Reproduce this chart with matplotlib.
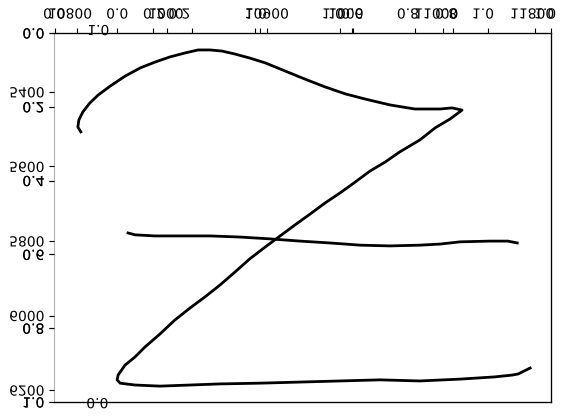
import matplotlib
matplotlib.use('Agg')
import matplotlib.pyplot as plt
from matplotlib.patheffects import AbstractPathEffect
from matplotlib.transforms import Affine2D

'''
Mirrored chart: everything upside down, so the text is drawn
flipped about its own centre with a small path effect.
'''


class FlipText(AbstractPathEffect):
    # mirror each glyph run about its horizontal centre line
    def draw_path(self, renderer, gc, tpath, affine, rgbFace=None):
        ext = tpath.get_extents(affine)
        cy = (ext.y0 + ext.y1) / 2
        flip = affine + Affine2D().translate(0, -cy).scale(1, -1).translate(0, cy)
        renderer.draw_path(gc, tpath, flip, rgbFace)


plt.rcParams['path.effects'] = [FlipText()]

# -------------- data
curve_x = [0.054, 0.048, 0.050, 0.058, 0.072, 0.089, 0.113, 0.143, 0.173, 0.203,
           0.233, 0.264, 0.290, 0.314, 0.338, 0.364, 0.394, 0.425, 0.465, 0.505,
           0.545, 0.586, 0.626, 0.676, 0.726, 0.777, 0.801, 0.821, 0.797, 0.767,
           0.736, 0.696, 0.666, 0.636, 0.606, 0.575, 0.545, 0.515, 0.485, 0.455,
           0.425, 0.394, 0.364, 0.334, 0.304, 0.274, 0.243, 0.213, 0.183, 0.163,
           0.143, 0.129, 0.127, 0.133, 0.163, 0.213, 0.274, 0.334, 0.414, 0.495,
           0.575, 0.656, 0.736, 0.817, 0.887, 0.922, 0.934, 0.958]
curve_y = [0.268, 0.255, 0.236, 0.214, 0.190, 0.168, 0.144, 0.117, 0.095, 0.079,
           0.065, 0.054, 0.046, 0.046, 0.049, 0.057, 0.068, 0.081, 0.103, 0.125,
           0.146, 0.165, 0.179, 0.195, 0.206, 0.206, 0.203, 0.209, 0.233, 0.257,
           0.290, 0.322, 0.350, 0.374, 0.404, 0.434, 0.461, 0.491, 0.520, 0.550,
           0.580, 0.612, 0.648, 0.683, 0.715, 0.745, 0.778, 0.816, 0.851, 0.878,
           0.900, 0.927, 0.940, 0.949, 0.954, 0.957, 0.954, 0.951, 0.949, 0.946,
           0.943, 0.940, 0.943, 0.938, 0.932, 0.927, 0.924, 0.908]

bar_x = [0.149, 0.163, 0.203, 0.254, 0.314, 0.374, 0.435, 0.495, 0.555, 0.616,
         0.676, 0.736, 0.777, 0.817, 0.877, 0.913, 0.932]
bar_y = [0.542, 0.547, 0.550, 0.550, 0.550, 0.553, 0.558, 0.564, 0.569, 0.575,
         0.577, 0.575, 0.572, 0.566, 0.564, 0.564, 0.569]

left_ticks = [0.0, 0.2, 0.4, 0.6, 0.8, 1.0]
second_ticks = [5400, 5600, 5800, 6000, 6200]
second_lim = (6232, 5242)

# tick marks along the top edge (axes fraction)
top_ticks = [0.002, 0.046, 0.127, 0.199, 0.227, 0.278, 0.404, 0.414, 0.429,
             0.575, 0.600, 0.602, 0.726, 0.782, 0.802, 0.873, 0.968, 1.0]
# the jumble of labels above the top edge
top_labels = ['0.0', '10800', '0.0', '0.2', '1000', '0.2', '1.0', '10900', '1.0',
              '1000', '0.6', '0.8', '11000', '0.8', '1.0', '11800', '1.0']
top_label_x = [0.0, 0.032, 0.127, 0.201, 0.225, 0.252, 0.406, 0.428, 0.561,
               0.587, 0.600, 0.712, 0.769, 0.789, 0.863, 0.962, 0.988]

# -------------- figure
fig = plt.figure(figsize=(5.72, 4.18), dpi=100)
ax = fig.add_axes([0.0944, 0.0383, 0.8689, 0.8828])

ax.plot(curve_x, curve_y, color='black', lw=2, path_effects=[])
ax.plot(bar_x, bar_y, color='black', lw=2, path_effects=[])

ax.set_xlim(0, 1)
ax.set_ylim(1, 0)
ax.set_yticks(left_ticks)
ax.set_yticklabels(['%.1f' % v for v in left_ticks])
ax.xaxis.tick_top()
ax.set_xticks(top_ticks)
ax.set_xticklabels([])
ax.spines['left'].set_color('#b0b0b0')

# second scale sharing the left edge
ax2 = ax.twinx()
ax2.set_ylim(*second_lim)
ax2.set_yticks(second_ticks)
ax2.yaxis.tick_left()
ax2.spines['left'].set_visible(False)
ax2.patch.set_visible(False)

# first labels look heavier in the picture: draw them a second time
ax3 = ax.twinx()
ax3.set_ylim(1, 0)
ax3.set_yticks(left_ticks)
ax3.yaxis.tick_left()
ax3.spines['left'].set_visible(False)
ax3.patch.set_visible(False)

for xv, s in zip(top_label_x, top_labels):
    ax.text(xv, 1.05, s, transform=ax.transAxes, ha='center', va='center', fontsize=10)

# stray end labels of a hidden axis
ax.text(0.089, 1.005, '1.0', transform=ax.transAxes, ha='center', va='center', fontsize=10)
ax.text(0.087, -0.006, '0.0', transform=ax.transAxes, ha='center', va='center', fontsize=10)

fig.savefig('out.png', dpi=100)
